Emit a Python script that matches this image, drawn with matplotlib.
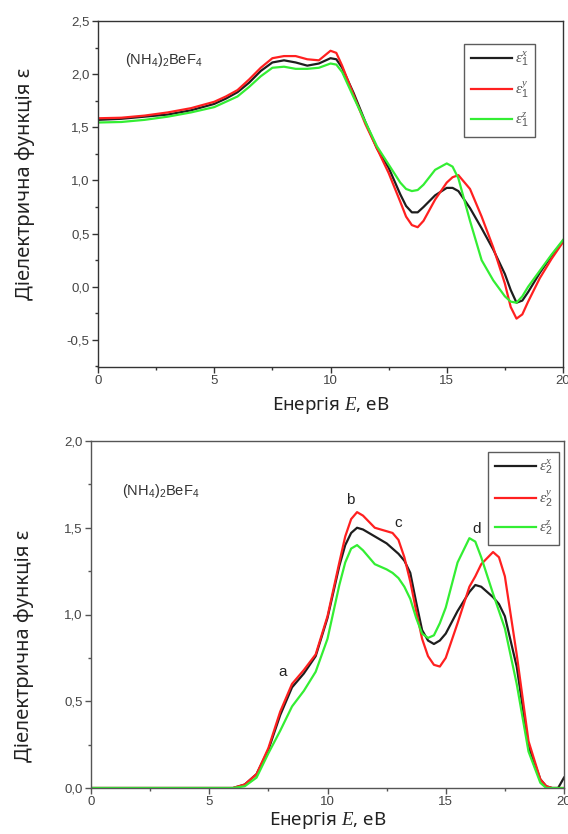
import matplotlib
matplotlib.use("Agg")
import matplotlib.pyplot as plt
from matplotlib.ticker import MultipleLocator, FuncFormatter

plt.rcParams["mathtext.fontset"] = "custom"
plt.rcParams["mathtext.rm"] = "Liberation Sans"
plt.rcParams["mathtext.it"] = "Liberation Serif:italic"
plt.rcParams["mathtext.bf"] = "Liberation Sans:bold"

# ---- real part eps1 ----
energy_1 = [0, 1, 2, 3, 4, 5, 5.5, 6, 6.5, 7, 7.5, 8, 8.5, 9, 9.5, 10, 10.25, 10.5,
            11, 11.5, 12, 12.5, 13, 13.25, 13.5, 13.75, 14, 14.5, 15, 15.25, 15.5,
            16, 16.5, 17, 17.5, 17.75, 18, 18.25, 18.5, 19, 19.5, 20]
eps1_x = [1.57, 1.58, 1.60, 1.62, 1.66, 1.72, 1.77, 1.83, 1.92, 2.03, 2.11, 2.13, 2.11,
          2.08, 2.10, 2.15, 2.14, 2.06, 1.82, 1.55, 1.30, 1.12, 0.87, 0.76, 0.70, 0.70,
          0.75, 0.86, 0.93, 0.93, 0.90, 0.74, 0.55, 0.35, 0.12, -0.03, -0.15, -0.13,
          -0.05, 0.13, 0.29, 0.43]
eps1_y = [1.585, 1.59, 1.61, 1.64, 1.68, 1.74, 1.79, 1.85, 1.95, 2.06, 2.15, 2.17, 2.17,
          2.14, 2.13, 2.22, 2.20, 2.08, 1.80, 1.53, 1.30, 1.07, 0.80, 0.66, 0.58, 0.56,
          0.62, 0.82, 0.98, 1.03, 1.05, 0.92, 0.66, 0.37, 0.03, -0.19, -0.30, -0.26,
          -0.14, 0.08, 0.26, 0.42]
eps1_z = [1.545, 1.55, 1.57, 1.60, 1.64, 1.69, 1.74, 1.79, 1.88, 1.98, 2.06, 2.07, 2.05,
          2.05, 2.06, 2.10, 2.09, 2.02, 1.78, 1.55, 1.32, 1.15, 0.98, 0.92, 0.90, 0.91,
          0.96, 1.10, 1.16, 1.13, 1.02, 0.62, 0.25, 0.06, -0.09, -0.14, -0.15, -0.09,
          0.00, 0.15, 0.30, 0.44]

# ---- imaginary part eps2 ----
energy_2 = [0, 5, 6, 6.5, 7, 7.5, 8, 8.5, 9, 9.5, 10, 10.5, 10.75, 11, 11.25, 11.5, 12,
            12.5, 12.75, 13, 13.25, 13.5, 13.75, 14, 14.25, 14.5, 14.75, 15, 15.5, 16,
            16.25, 16.5, 17, 17.25, 17.5, 18, 18.5, 19, 19.25, 19.5, 19.75, 20]
eps2_x = [0, 0, 0, 0.02, 0.08, 0.22, 0.42, 0.58, 0.66, 0.76, 0.98, 1.28, 1.40, 1.47,
          1.50, 1.49, 1.45, 1.41, 1.38, 1.35, 1.31, 1.24, 1.07, 0.91, 0.85, 0.83, 0.85,
          0.89, 1.02, 1.13, 1.17, 1.16, 1.10, 1.06, 0.99, 0.70, 0.24, 0.05, 0.01, 0.0,
          0.0, 0.06]
eps2_y = [0, 0, 0, 0.02, 0.08, 0.23, 0.44, 0.60, 0.68, 0.77, 0.99, 1.30, 1.45, 1.55,
          1.59, 1.57, 1.50, 1.48, 1.47, 1.43, 1.33, 1.19, 1.02, 0.86, 0.76, 0.71, 0.70,
          0.75, 0.95, 1.16, 1.22, 1.29, 1.36, 1.33, 1.22, 0.77, 0.27, 0.05, 0.01, 0.0,
          0.0, 0.0]
eps2_z = [0, 0, 0, 0.01, 0.06, 0.20, 0.33, 0.47, 0.56, 0.67, 0.86, 1.17, 1.30, 1.38,
          1.40, 1.37, 1.29, 1.26, 1.24, 1.21, 1.16, 1.09, 0.98, 0.89, 0.865, 0.88, 0.95,
          1.04, 1.30, 1.44, 1.42, 1.33, 1.12, 1.02, 0.92, 0.60, 0.21, 0.03, 0.0, 0.0,
          0.0, 0.0]

peak_labels = ["a", "b", "c", "d"]
peak_pos_e = [8.1, 10.95, 12.98, 16.32]
peak_pos_v = [0.67, 1.66, 1.53, 1.49]

colors = ["#1e1e1e", "#ff2020", "#33ee33"]
tick_color = "#444444"
label_font = ["Noto Sans", "DejaVu Sans"]


def comma(v, pos):
    return f"{v:.1f}".replace(".", ",")


def style_axes(ax, spine_color):
    for sp in ax.spines.values():
        sp.set_color(spine_color)
        sp.set_linewidth(1.0)
    ax.xaxis.set_major_locator(MultipleLocator(5))
    ax.xaxis.set_minor_locator(MultipleLocator(2.5))
    ax.yaxis.set_major_locator(MultipleLocator(0.5))
    ax.yaxis.set_minor_locator(MultipleLocator(0.25))
    ax.yaxis.set_major_formatter(FuncFormatter(comma))
    ax.xaxis.set_major_formatter(FuncFormatter(lambda v, p: f"{v:.0f}"))
    ax.tick_params(which="major", direction="out", length=4, width=1,
                   color=spine_color, labelsize=9.5, labelcolor=tick_color, pad=2)
    ax.tick_params(which="minor", direction="out", length=2.5, width=1,
                   color=spine_color)
    for lbl in ax.get_xticklabels() + ax.get_yticklabels():
        lbl.set_family("Liberation Sans")
    ax.set_xlim(0, 20)


def add_legend(ax, anchor):
    leg = ax.legend(loc="upper left", bbox_to_anchor=anchor, borderaxespad=0,
                    frameon=True, fancybox=False, edgecolor="#333333", fontsize=11,
                    handlelength=2.7, labelspacing=0.75, borderpad=0.45,
                    handletextpad=0.2, labelcolor="#555555")
    leg.get_frame().set_linewidth(1.0)
    return leg


fig = plt.figure(figsize=(5.68, 8.34), dpi=100)
ax1 = fig.add_axes([98 / 568, 1 - 367 / 834, 465 / 568, 346 / 834])
ax2 = fig.add_axes([91 / 568, 1 - 788 / 834, 473 / 568, 347 / 834])

# top panel
for vals, c, lab in zip([eps1_x, eps1_y, eps1_z], colors,
                        [r"$\varepsilon_1^x$", r"$\varepsilon_1^y$", r"$\varepsilon_1^z$"]):
    ax1.plot(energy_1, vals, color=c, lw=1.6, label=lab)
ax1.set_ylim(-0.755, 2.5)
style_axes(ax1, "#333333")
ax1.text(1.15, 2.13, r"(NH$_4$)$_2$BeF$_4$", fontsize=10.5, color="#333333",
         family="Liberation Sans", va="center")
ax1.set_xlabel(r"Енергія $E$, еВ", fontsize=13.5, family=label_font, color="#222222")
ax1.set_ylabel("Діелектрична функція ε", fontsize=14.5, family=label_font, color="#222222")
ax1.xaxis.set_label_coords(0.5, -0.08)
ax1.yaxis.set_label_coords(-0.135, 0.53)
add_legend(ax1, (0.787, 0.934))

# bottom panel
for vals, c, lab in zip([eps2_x, eps2_y, eps2_z], colors,
                        [r"$\varepsilon_2^x$", r"$\varepsilon_2^y$", r"$\varepsilon_2^z$"]):
    ax2.plot(energy_2, vals, color=c, lw=1.6, label=lab)
ax2.set_ylim(0, 2.0)
style_axes(ax2, "#555555")
ax2.text(1.3, 1.71, r"(NH$_4$)$_2$BeF$_4$", fontsize=10.5, color="#333333",
         family="Liberation Sans", va="center")
for t, xe, yv in zip(peak_labels, peak_pos_e, peak_pos_v):
    ax2.text(xe, yv, t, fontsize=11, color="#222222", family="Liberation Sans",
             ha="center", va="center")
ax2.set_xlabel(r"Енергія $E$, еВ", fontsize=13.5, family=label_font, color="#222222")
ax2.set_ylabel("Діелектрична функція ε", fontsize=14.5, family=label_font, color="#222222")
ax2.xaxis.set_label_coords(0.5, -0.064)
ax2.yaxis.set_label_coords(-0.12, 0.409)
add_legend(ax2, (0.839, 0.968))

fig.savefig("out.png", dpi=100)
